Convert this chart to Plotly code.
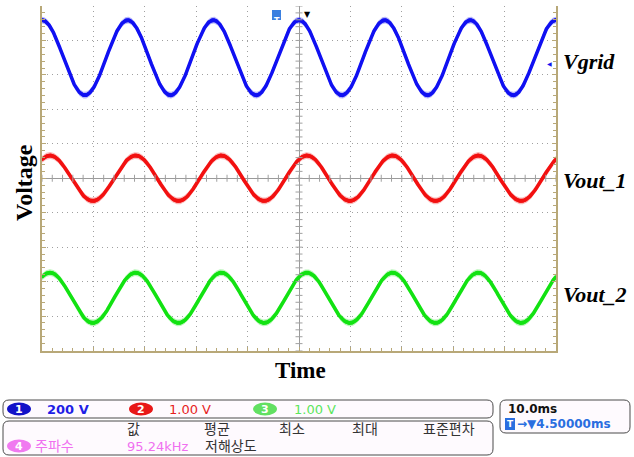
import numpy as np
import plotly.graph_objects as go

W, H = 634, 457

# ---- scope settings and measured channel parameters ----
channels = ["Vgrid", "Vout_1", "Vout_2"]
volts_per_div = [200.0, 1.00, 1.00]        # V/div per channel
position_div = [3.5, 0.0, -3.47]           # channel offset on screen (div)
amplitude_v = [218.0, 0.66, 0.73]          # peak amplitude (V)
delay_ms = [0.0, 1.55, 1.55]               # peak delay vs. screen centre (ms)
line_freq_hz = 60.0
time_per_div_ms = 10.0
trace_colors = ["#1010f2", "#f21010", "#12e212"]
soft_colors = ["rgba(16,16,242,0.30)", "rgba(242,16,16,0.30)", "rgba(18,226,18,0.30)"]

# readout panel text
ch_scale_labels = ["200 V", "1.00 V", "1.00 V"]
meas_headers = ["값", "평균", "최소", "최대", "표준편차"]
meas_name = "주파수"
meas_value = "95.24kHz"
meas_mode = "저해상도"
timebase_label = "10.0ms"
trigger_label = "→▼4.50000ms"

N_DIV_X, N_DIV_Y = 10, 10
x_half = time_per_div_ms * N_DIV_X / 2

# pixel helpers for paper coordinates (margins are zero)
def X(px):
    return px / W

def Y(py):
    return 1 - py / H

PLOT_L, PLOT_R, PLOT_T, PLOT_B = 42, 556, 6, 350.5
px_per_div_y = (PLOT_B - PLOT_T) / N_DIV_Y

fig = go.Figure()

t = np.linspace(-x_half, x_half, 1601)
inner = 2.0 / px_per_div_y
outer = 3.4 / px_per_div_y
for name, vpd, pos, amp, dl, col, soft in zip(channels, volts_per_div, position_div,
                                              amplitude_v, delay_ms, trace_colors, soft_colors):
    y = pos + (amp / vpd) * np.cos(2 * np.pi * line_freq_hz * (t - dl) / 1000.0)
    # soft noise envelope
    fig.add_trace(go.Scatter(x=t, y=y - outer, mode="lines", line=dict(width=0),
                             hoverinfo="skip", showlegend=False))
    fig.add_trace(go.Scatter(x=t, y=y + outer, mode="lines", line=dict(width=0),
                             fill="tonexty", fillcolor=soft, hoverinfo="skip", showlegend=False))
    # dense band
    fig.add_trace(go.Scatter(x=t, y=y - inner, mode="lines", line=dict(width=0),
                             hoverinfo="skip", showlegend=False))
    fig.add_trace(go.Scatter(x=t, y=y + inner, mode="lines", line=dict(width=0),
                             fill="tonexty", fillcolor=col, hoverinfo="skip", showlegend=False))
    fig.add_trace(go.Scatter(x=t, y=y, mode="lines", line=dict(width=3.5, color=col),
                             name=name, showlegend=False))

# minor tick marks on the centre cross-hair
grid_gray = "#a0a0a0"
cx = np.arange(-x_half, x_half + 1e-9, time_per_div_ms / 5)
cy = np.arange(-N_DIV_Y / 2, N_DIV_Y / 2 + 1e-9, 0.2)
fig.add_trace(go.Scatter(x=cx, y=np.zeros_like(cx), mode="markers", hoverinfo="skip",
                         marker=dict(symbol="line-ns", size=5, line=dict(width=1, color=grid_gray)),
                         showlegend=False))
fig.add_trace(go.Scatter(x=np.zeros_like(cy), y=cy, mode="markers", hoverinfo="skip",
                         marker=dict(symbol="line-ew", size=5, line=dict(width=1, color=grid_gray)),
                         showlegend=False))

border = "#b8a878"
axis_common = dict(
    showgrid=True, gridcolor=grid_gray, gridwidth=1, griddash="1px,4px",
    zeroline=True, zerolinecolor="#9a9a9a", zerolinewidth=1,
    showline=True, linecolor=border, linewidth=2,
    ticks="inside", ticklen=4, tickcolor=border, tickwidth=1,
    showticklabels=False, fixedrange=True,
)
fig.update_layout(
    width=W, height=H,
    margin=dict(l=0, r=0, t=0, b=0),
    paper_bgcolor="white", plot_bgcolor="white",
    xaxis=dict(range=[-x_half, x_half], dtick=time_per_div_ms, tick0=0,
               domain=[X(PLOT_L), X(PLOT_R)],
               minor=dict(dtick=time_per_div_ms / 5, ticks="inside", ticklen=3,
                          tickcolor=border, showgrid=False),
               **axis_common),
    yaxis=dict(range=[-N_DIV_Y / 2, N_DIV_Y / 2], dtick=1, tick0=0,
               domain=[Y(PLOT_B), Y(PLOT_T)], mirror="allticks",
               minor=dict(dtick=0.2, ticks="inside", ticklen=3,
                          tickcolor=border, showgrid=False),
               **axis_common),
)

annotations = []
shapes = []

serif = "Liberation Serif"
for name, ypx in zip(channels, [62, 180, 294]):
    annotations.append(dict(text=name, x=X(561), y=Y(ypx), xref="paper", yref="paper",
                            xanchor="left", yanchor="middle", showarrow=False,
                            font=dict(family=serif, size=22, color="black",
                                      weight="bold", style="italic")))
annotations.append(dict(text="Voltage", x=X(24), y=Y(183), xref="paper", yref="paper",
                        textangle=-90, showarrow=False, xanchor="center", yanchor="middle",
                        font=dict(family=serif, size=24, color="black", weight="bold")))
annotations.append(dict(text="Time", x=X(300), y=Y(370), xref="paper", yref="paper",
                        showarrow=False, xanchor="center", yanchor="middle",
                        font=dict(family=serif, size=23, color="black", weight="bold")))

# on-screen scope markers
shapes.append(dict(type="rect", xref="paper", yref="paper", x0=X(272), x1=X(281),
                   y0=Y(20), y1=Y(10), fillcolor="#3a80e0", line=dict(width=0)))
annotations.append(dict(text="T", x=X(276.5), y=Y(15), xref="paper", yref="paper", showarrow=False,
                        font=dict(family="DejaVu Sans", size=8, color="white", weight="bold")))
annotations.append(dict(text="▼", x=X(307), y=Y(8), xref="paper", yref="paper", showarrow=False,
                        font=dict(family="DejaVu Sans", size=8, color="black")))
annotations.append(dict(text="◀", x=X(554), y=Y(58), xref="paper", yref="paper", showarrow=False,
                        xanchor="right", font=dict(family="DejaVu Sans", size=6, color="#1414f0")))


def rounded_box(x0, y0, x1, y1, r):
    p = (f"M {X(x0 + r)},{Y(y0)} L {X(x1 - r)},{Y(y0)} Q {X(x1)},{Y(y0)} {X(x1)},{Y(y0 + r)} "
         f"L {X(x1)},{Y(y1 - r)} Q {X(x1)},{Y(y1)} {X(x1 - r)},{Y(y1)} "
         f"L {X(x0 + r)},{Y(y1)} Q {X(x0)},{Y(y1)} {X(x0)},{Y(y1 - r)} "
         f"L {X(x0)},{Y(y0 + r)} Q {X(x0)},{Y(y0)} {X(x0 + r)},{Y(y0)} Z")
    return dict(type="path", path=p, xref="paper", yref="paper",
                fillcolor="#fefafe", line=dict(color="#4a4a4a", width=1))


shapes.append(rounded_box(3, 400, 493, 418, 6))
shapes.append(rounded_box(3, 421, 493, 455, 6))
shapes.append(rounded_box(500, 400, 630, 433, 6))

scope_font = "DejaVu Sans, Noto Sans CJK KR"


def text(s, xpx, ypx, color, size=13, weight="normal", anchor="left"):
    annotations.append(dict(text=s, x=X(xpx), y=Y(ypx), xref="paper", yref="paper",
                            xanchor=anchor, yanchor="middle", showarrow=False,
                            font=dict(family=scope_font, size=size, color=color, weight=weight)))


def badge(num, xc, yc, fill):
    shapes.append(dict(type="circle", xref="paper", yref="paper", x0=X(xc - 12), x1=X(xc + 12),
                       y0=Y(yc + 6.5), y1=Y(yc - 6.5), fillcolor=fill, line=dict(width=0)))
    text(num, xc, yc, "white", size=11, weight="bold", anchor="center")


badge_fills = ["#1212c8", "#e81818", "#62e062"]
label_colors = ["#1e1ee6", "#e61e1e", "#5ce65c"]
for num, bx, lx, lab, bf, lc in zip(["1", "2", "3"], [19, 141, 265], [45, 167, 292],
                                    ch_scale_labels, badge_fills, label_colors):
    badge(num, bx, 409, bf)
    text(lab, lx, 409, lc, weight="bold" if num == "1" else "normal")

for h, hx in zip(meas_headers, [125, 202, 277, 350, 421]):
    text(h, hx, 429, "#333333", size=14)

pink = "#f070f0"
badge("4", 19, 446, "#f07af0")
text(meas_name, 33, 446, pink, size=14)
text(meas_value, 125, 446, pink, size=13)
text(meas_mode, 203, 446, "#333333", size=14)

text(timebase_label, 506, 409, "#111111", size=12, weight="bold")
shapes.append(dict(type="rect", xref="paper", yref="paper", x0=X(505), x1=X(515),
                   y0=Y(430), y1=Y(418), fillcolor="#2a6ee0", line=dict(width=0)))
text("T", 510, 424, "white", size=9, weight="bold", anchor="center")
text(trigger_label, 515, 424, "#2a6ee0", size=12, weight="bold")

fig.update_layout(annotations=annotations, shapes=shapes)
fig.write_html("out.html")
